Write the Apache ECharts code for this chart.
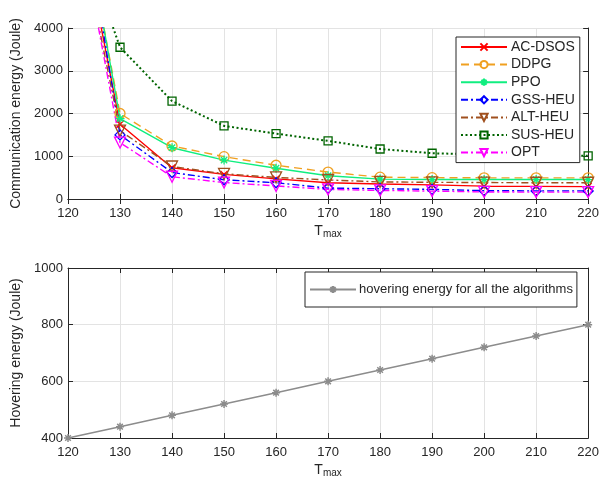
<!DOCTYPE html>
<html>
<head>
<meta charset="utf-8">
<script src="https://cdn.jsdelivr.net/npm/echarts@6/dist/echarts.min.js"></script>
<style>
html,body{margin:0;padding:0;background:#fff;}
#chart{width:602px;height:481px;}
</style>
</head>
<body>
<div id="chart"></div>
<script>
// T_max values shared by both panels
const tmax = [120, 130, 140, 150, 160, 170, 180, 190, 200, 210, 220];

// Communication energy (Joule) per algorithm
const acDsos = [8000, 1750, 730, 575, 470, 380, 350, 330, 300, 295, 290];
const ddpg   = [8500, 2000, 1240, 990, 790, 630, 510, 500, 495, 495, 495];
const ppo    = [8700, 1880, 1200, 910, 720, 545, 465, 455, 455, 455, 455];
const gssHeu = [9000, 1500, 620, 450, 380, 255, 240, 225, 195, 190, 190];
const altHeu = [7600, 1600, 760, 590, 505, 445, 400, 390, 385, 380, 380];
const susHeu = [7000, 3550, 2290, 1710, 1530, 1360, 1170, 1070, 1040, 1020, 1010];
const opt    = [7800, 1320, 520, 385, 305, 225, 200, 185, 165, 160, 160];

// Hovering energy (Joule), identical for all algorithms
const hovering = [400, 440, 480, 520, 560, 600, 640, 680, 720, 760, 800];

const commTicks = [0, 1000, 2000, 3000, 4000];
const hoverTicks = [400, 600, 800, 1000];

const FONT = 'Liberation Sans, Arial, Helvetica, sans-serif';
const INK = '#262626';

const pts = arr => tmax.map((t, i) => [t, arr[i]]);
const plain = v => String(v);

const CROSS = 'path://M0,0 L10,10 M10,0 L0,10';
const STAR = 'path://M5,0 L5,10 M0,5 L10,5 M1.5,1.5 L8.5,8.5 M8.5,1.5 L1.5,8.5';

function lineSeries(name, data, color, type, symbol, size, extra) {
  return Object.assign({
    name: name,
    type: 'line',
    xAxisIndex: 0,
    yAxisIndex: 0,
    data: pts(data),
    symbol: symbol,
    symbolSize: size,
    clip: true,
    lineStyle: { color: color, width: 1.4, type: type },
    itemStyle: { color: 'rgba(255,255,255,0)', borderColor: color, borderWidth: 1.3 },
    emphasis: { disabled: true },
    animation: false
  }, extra || {});
}

function xAxisPair(gridIndex) {
  const base = {
    type: 'value', gridIndex: gridIndex, min: 120, max: 220, interval: 10,
    axisLine: { show: true, lineStyle: { color: INK, width: 1 } },
    axisTick: { show: true, inside: true, length: 5, lineStyle: { color: INK } },
    splitLine: { show: false }
  };
  return [
    Object.assign({}, base, {
      position: 'bottom',
      axisLabel: { color: INK, fontSize: 13, fontFamily: FONT, margin: 8, formatter: plain },
      splitLine: { show: true, lineStyle: { color: '#e3e3e3', width: 1 } },
      name: '{t|T}{s|max}',
      nameLocation: 'middle',
      nameGap: 24,
      nameTextStyle: {
        rich: {
          t: { fontSize: 14, color: INK, fontFamily: FONT },
          s: { fontSize: 10, color: INK, fontFamily: FONT, padding: [6, 0, 0, 0] }
        }
      }
    }),
    Object.assign({}, base, { position: 'top', axisLabel: { show: false } })
  ];
}

function yAxisPair(gridIndex, min, max, interval, name, gap) {
  const base = {
    type: 'value', gridIndex: gridIndex, min: min, max: max, interval: interval,
    axisLine: { show: true, lineStyle: { color: INK, width: 1 } },
    axisTick: { show: true, inside: true, length: 5, lineStyle: { color: INK } },
    splitLine: { show: false }
  };
  return [
    Object.assign({}, base, {
      position: 'left',
      axisLabel: { color: INK, fontSize: 13, fontFamily: FONT, margin: 5, formatter: plain },
      splitLine: { show: true, lineStyle: { color: '#e3e3e3', width: 1 } },
      name: name,
      nameLocation: 'middle',
      nameGap: gap,
      nameRotate: 90,
      nameTextStyle: { color: INK, fontSize: 14, fontFamily: FONT }
    }),
    Object.assign({}, base, { position: 'right', axisLabel: { show: false } })
  ];
}

const chart = echarts.init(document.getElementById('chart'), null, { renderer: 'canvas' });

const xs = xAxisPair(0).concat(xAxisPair(1));
const ys = yAxisPair(0, commTicks[0], commTicks[commTicks.length - 1], commTicks[1] - commTicks[0],
                     'Communication energy (Joule)', 45)
  .concat(yAxisPair(1, hoverTicks[0], hoverTicks[hoverTicks.length - 1], hoverTicks[1] - hoverTicks[0],
                    'Hovering energy (Joule)', 39));

const option = {
  backgroundColor: '#fff',
  animation: false,
  grid: [
    { left: 68, top: 28, width: 523, height: 171 },
    { left: 68, top: 268, width: 523, height: 170 }
  ],
  xAxis: xs,
  yAxis: ys,
  legend: [
    {
      data: ['AC-DSOS', 'DDPG', 'PPO', 'GSS-HEU', 'ALT-HEU', 'SUS-HEU', 'OPT'],
      orient: 'vertical',
      left: 456, top: 37,
      itemWidth: 46, itemHeight: 9, itemGap: 3.6,
      padding: [3, 5, 3, 4],
      backgroundColor: '#fff',
      borderColor: INK, borderWidth: 1,
      textStyle: { color: INK, fontSize: 14, fontFamily: FONT, padding: [0, 0, 0, -1] }
    },
    {
      data: ['hovering energy for all the algorithms'],
      orient: 'vertical',
      left: 305, top: 272,
      itemWidth: 46, itemHeight: 9,
      padding: [11, 4, 11, 4],
      backgroundColor: '#fff',
      borderColor: INK, borderWidth: 1,
      textStyle: { color: INK, fontSize: 13, fontFamily: FONT, padding: [0, 0, 0, -2] }
    }
  ],
  series: [
    lineSeries('AC-DSOS', acDsos, '#ff0000', 'solid', CROSS, 7),
    lineSeries('DDPG', ddpg, '#f0a020', [8, 5], 'circle', 10),
    lineSeries('PPO', ppo, '#10ee80', 'solid', STAR, 9),
    lineSeries('GSS-HEU', gssHeu, '#0000ff', [7, 3, 2, 3], 'diamond', 10),
    lineSeries('ALT-HEU', altHeu, '#a0501e', [7, 3, 2, 3], 'triangle', 11, { symbolRotate: 180 }),
    lineSeries('SUS-HEU', susHeu, '#006400', [2, 3], 'rect', 8, { lineStyle: { color: '#006400', width: 2, type: [2, 2.5] } }),
    lineSeries('OPT', opt, '#ff00ff', [7, 3, 2, 3], 'triangle', 11, { symbolRotate: 180 }),
    {
      name: 'hovering energy for all the algorithms',
      type: 'line',
      xAxisIndex: 2,
      yAxisIndex: 2,
      data: pts(hovering),
      symbol: STAR,
      symbolSize: 8,
      lineStyle: { color: '#8c8c8c', width: 1.5 },
      itemStyle: { color: 'rgba(255,255,255,0)', borderColor: '#8c8c8c', borderWidth: 1.5 },
      emphasis: { disabled: true },
      animation: false
    }
  ]
};

chart.setOption(option);
</script>
</body>
</html>
